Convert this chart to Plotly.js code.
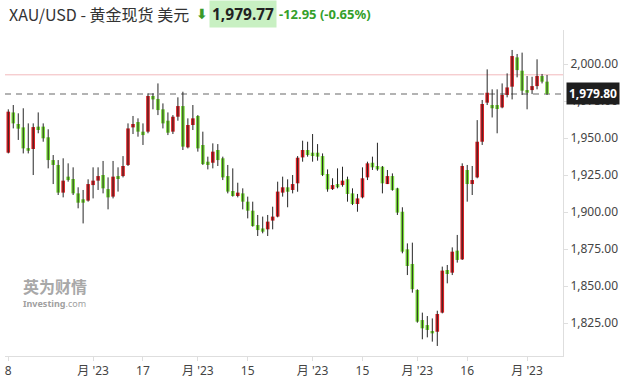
<!DOCTYPE html>
<html>
<head>
<meta charset="utf-8">
<script src="https://cdn.plot.ly/plotly-3.0.1.min.js"></script>
<style>html,body{margin:0;padding:0;background:#fff;}#chart{width:628px;height:389px;}</style>
</head>
<body>
<div id="chart"></div>
<script>
// Daily XAU/USD candles (approx. 8 Jun 2023 – 6 Nov 2023)
const openP  = [1940.1,1967.3,1959.5,1957.2,1943.2,1942.6,1957.7,1957.7,1950.5,1935.1,
                1931.8,1913.1,1923.9,1922.3,1912.6,1908.6,1907.7,1918.2,1921.2,1925.0,
                1915.5,1910.4,1924.3,1924.3,1931.8,1957.2,1960.8,1954.3,1954.3,1978.4,
                1976.4,1969.4,1961.7,1954.3,1964.4,1971.6,1943.7,1958.8,1964.9,1945.3,
                1934.0,1933.3,1941.9,1936.3,1924.3,1914.2,1910.8,1912.6,1907.0,1900.9,
                1891.2,1888.9,1888.3,1894.2,1896.9,1913.1,1916.7,1914.9,1919.4,1936.9,
                1941.9,1940.1,1940.1,1937.8,1925.7,1915.5,1918.9,1918.2,1922.1,1912.6,
                1905.4,1909.9,1923.4,1933.3,1931.1,1930.6,1918.9,1924.3,1916.0,1900.2,
                1874.8,1864.9,1847.3,1827.0,1823.6,1819.6,1819.1,1832.0,1860.8,1859.0,
                1873.9,1868.0,1928.4,1918.9,1923.4,1947.5,1973.9,1972.3,1972.3,1970.7,
                1979.1,1984.7,2004.5,1995.5,1982.4,1982.4,1985.1,1991.9,1988.1];
const highP  = [1969.4,1972.3,1966.7,1970.1,1959.9,1959.9,1967.3,1959.9,1955.9,1938.5,
                1935.1,1936.3,1932.9,1930.2,1916.7,1914.9,1922.1,1930.2,1930.2,1934.5,
                1923.4,1934.5,1930.2,1937.8,1959.9,1964.9,1963.3,1959.9,1980.2,1980.2,
                1986.9,1973.4,1967.3,1965.5,1977.5,1981.3,1963.3,1972.3,1965.5,1954.3,
                1937.4,1946.4,1945.9,1937.4,1931.8,1929.5,1919.8,1916.0,1910.4,1907.0,
                1898.0,1896.9,1898.0,1903.6,1920.5,1923.9,1922.1,1925.0,1937.8,1948.2,
                1947.5,1952.7,1945.9,1939.6,1928.8,1922.8,1929.5,1930.6,1923.9,1916.0,
                1912.2,1930.2,1934.0,1937.4,1946.8,1931.1,1928.4,1926.1,1916.4,1903.2,
                1878.8,1879.3,1847.8,1832.0,1829.7,1828.1,1833.3,1863.1,1864.2,1876.1,
                1884.5,1932.9,1931.8,1931.1,1962.1,1975.7,1996.4,1982.9,1982.9,1986.9,
                1993.7,2009.5,2006.8,2007.7,1991.9,1991.4,2003.2,1993.3,1992.6];
const lowP   = [1939.6,1956.5,1948.7,1939.6,1939.6,1925.0,1953.2,1947.5,1929.5,1918.9,
                1911.5,1909.9,1920.5,1911.5,1902.5,1892.3,1907.0,1909.2,1914.9,1912.6,
                1901.8,1909.2,1913.8,1923.4,1931.1,1952.7,1950.9,1945.3,1953.2,1969.4,
                1965.5,1956.5,1952.0,1952.7,1961.7,1941.9,1943.0,1955.4,1940.8,1931.8,
                1928.8,1929.5,1931.1,1921.6,1912.6,1910.4,1909.9,1901.8,1895.7,1890.1,
                1883.8,1885.6,1883.8,1888.3,1896.4,1910.4,1903.2,1912.6,1913.7,1934.0,
                1937.4,1934.0,1934.7,1924.3,1913.7,1914.9,1916.0,1917.1,1907.0,1904.7,
                1900.2,1909.2,1921.6,1928.4,1927.9,1912.6,1918.9,1914.4,1898.0,1872.1,
                1857.4,1845.5,1825.2,1814.0,1815.3,1812.4,1809.5,1831.5,1851.8,1857.4,
                1865.8,1867.6,1907.0,1911.5,1922.8,1945.3,1972.3,1963.9,1953.2,1970.1,
                1977.5,1976.1,1991.0,1979.1,1969.4,1979.7,1982.9,1986.9,1979.1];
const closeP = [1967.8,1959.9,1956.3,1943.0,1941.4,1957.4,1955.4,1949.8,1935.1,1931.8,
                1913.1,1921.2,1921.6,1912.6,1906.3,1906.3,1918.9,1921.2,1924.3,1916.0,
                1909.9,1923.9,1922.3,1931.1,1956.5,1959.5,1954.3,1952.0,1978.4,1976.1,
                1968.9,1959.9,1953.6,1964.4,1971.6,1944.2,1958.8,1963.3,1943.0,1932.4,
                1931.8,1940.8,1935.1,1923.4,1913.8,1910.8,1913.1,1907.0,1900.9,1890.5,
                1887.8,1886.7,1893.5,1896.9,1913.8,1916.7,1913.7,1918.9,1936.7,1941.9,
                1938.5,1937.8,1937.4,1925.0,1915.3,1918.2,1916.7,1921.2,1912.2,1905.4,
                1909.2,1922.8,1932.9,1930.2,1928.8,1919.4,1924.3,1914.9,1899.6,1873.2,
                1863.5,1847.8,1825.9,1821.4,1820.3,1818.0,1831.1,1860.4,1858.1,1873.2,
                1867.6,1931.1,1918.9,1921.6,1947.5,1973.0,1980.6,1970.1,1969.6,1979.1,
                1984.2,2005.4,1995.9,1982.0,1980.6,1985.1,1991.9,1988.1,1979.8];

const tickIdx    = [0, 17, 27, 38, 48, 61, 71, 82, 92, 104];
const tickLabels = ["8", "月 '23", "17", "月 '23", "15", "月 '23", "15", "月 '23", "16", "月 '23"];
const yTicks     = [1825, 1850, 1875, 1900, 1925, 1950, 1975, 2000];

const lastPrice = 1979.80;
const prevClose = 1992.72;
const headerName   = "XAU/USD - 黄金现货 美元";
const headerPrice  = "1,979.77";
const headerChange = "-12.95 (-0.65%)";

const UP = '#dc1b20', DOWN = '#77dd35', WICK = '#262626';

const idx = openP.map((_, i) => i);

// wicks
const wx = [], wy = [];
idx.forEach(i => { wx.push(i, i, null); wy.push(lowP[i], highP[i], null); });

// bodies
const bBase = idx.map(i => Math.min(openP[i], closeP[i]));
const bH = idx.map(i => Math.max(Math.abs(closeP[i] - openP[i]), 1.6));
const bCol = idx.map(i => closeP[i] >= openP[i] ? UP : DOWN);

// layout geometry helpers (paper coordinates)
const L = 5, R = 65, T = 30, B = 33, W = 628, H = 389;
const pw = W - L - R, ph = H - T - B;
const px = x => (x - L) / pw;
const py = y => (H - B - y) / ph;

const traces = [
  { type: 'scatter', mode: 'lines', x: wx, y: wy, line: { color: WICK, width: 1 },
    hoverinfo: 'skip', showlegend: false },
  { type: 'bar', x: idx, y: bH, base: bBase, width: 0.72,
    marker: { color: bCol, line: { width: 0 } }, hoverinfo: 'skip', showlegend: false }
];

const FONT = '"Noto Sans", "Noto Sans CJK SC", sans-serif';

const layout = {
  width: W, height: H,
  margin: { l: L, r: R, t: T, b: B, pad: 0 },
  paper_bgcolor: '#fff', plot_bgcolor: '#fff',
  showlegend: false,
  font: { family: FONT, size: 12, color: '#444' },
  xaxis: {
    type: 'linear', range: [-0.66, 111.2], fixedrange: true,
    tickmode: 'array', tickvals: tickIdx, ticktext: tickLabels,
    showgrid: false, zeroline: false,
    showline: true, linecolor: '#dedede', linewidth: 1,
    ticks: 'outside', ticklen: 4, tickcolor: '#dedede',
    tickfont: { family: FONT, size: 12, color: '#444' }
  },
  yaxis: {
    side: 'right', range: [1802.7, 2023.0], fixedrange: true,
    tickmode: 'array', tickvals: yTicks, tickformat: ',.2f',
    showgrid: false, zeroline: false,
    showline: true, linecolor: '#dedede', linewidth: 1,
    ticks: 'outside', ticklen: 4, tickcolor: '#dedede',
    tickfont: { family: FONT, size: 12, color: '#444' }
  },
  shapes: [
    { type: 'line', xref: 'paper', x0: 0, x1: 1, yref: 'y', y0: prevClose, y1: prevClose,
      line: { color: '#f2b9bd', width: 1 }, layer: 'below' },
    { type: 'line', xref: 'paper', x0: 0, x1: 1, yref: 'y', y0: lastPrice, y1: lastPrice,
      line: { color: '#9a9a9a', width: 1.6, dash: '6px,5px' }, layer: 'below' }
  ],
  annotations: [
    { xref: 'paper', yref: 'y', x: 1, y: lastPrice, xanchor: 'left', yanchor: 'middle',
      xshift: 3, showarrow: false, text: '<b>' + lastPrice.toLocaleString('en-US', {minimumFractionDigits: 2}) + '</b>',
      font: { family: FONT, size: 12, color: '#fff' }, bgcolor: '#1e1e1e', borderpad: 2 },
    { xref: 'paper', yref: 'paper', x: px(7), y: py(14), xanchor: 'left', yanchor: 'middle',
      showarrow: false, text: headerName,
      font: { family: '"Noto Sans CJK SC", "Noto Sans", sans-serif', size: 16, color: '#333' } },
    { xref: 'paper', yref: 'paper', x: px(194), y: py(14), xanchor: 'left', yanchor: 'middle',
      showarrow: false, text: '<b>⬇</b>',
      font: { family: '"DejaVu Sans", sans-serif', size: 14, color: '#3a9a2a' } },
    { xref: 'paper', yref: 'paper', x: px(209), y: py(14), xanchor: 'left', yanchor: 'middle',
      showarrow: false, text: '<b>' + headerPrice + '</b>', bgcolor: '#c8f0c2', borderpad: 2,
      font: { family: FONT, size: 15.5, color: '#222' } },
    { xref: 'paper', yref: 'paper', x: px(277), y: py(14), xanchor: 'left', yanchor: 'middle',
      showarrow: false, text: '<b>' + headerChange + '</b>',
      font: { family: FONT, size: 13, color: '#34a02a' } },
    { xref: 'paper', yref: 'paper', x: px(21), y: py(286), xanchor: 'left', yanchor: 'middle',
      showarrow: false, text: '<b>英为财情</b>',
      font: { family: '"Noto Sans CJK SC", sans-serif', size: 16, color: '#a8a8a8' } },
    { xref: 'paper', yref: 'paper', x: px(21), y: py(303), xanchor: 'left', yanchor: 'middle',
      showarrow: false, text: '<b>Investing</b>.com',
      font: { family: FONT, size: 9, color: '#a0a0a0' } }
  ]
};

Plotly.newPlot('chart', traces, layout, { displayModeBar: false, staticPlot: true });
</script>
</body>
</html>
